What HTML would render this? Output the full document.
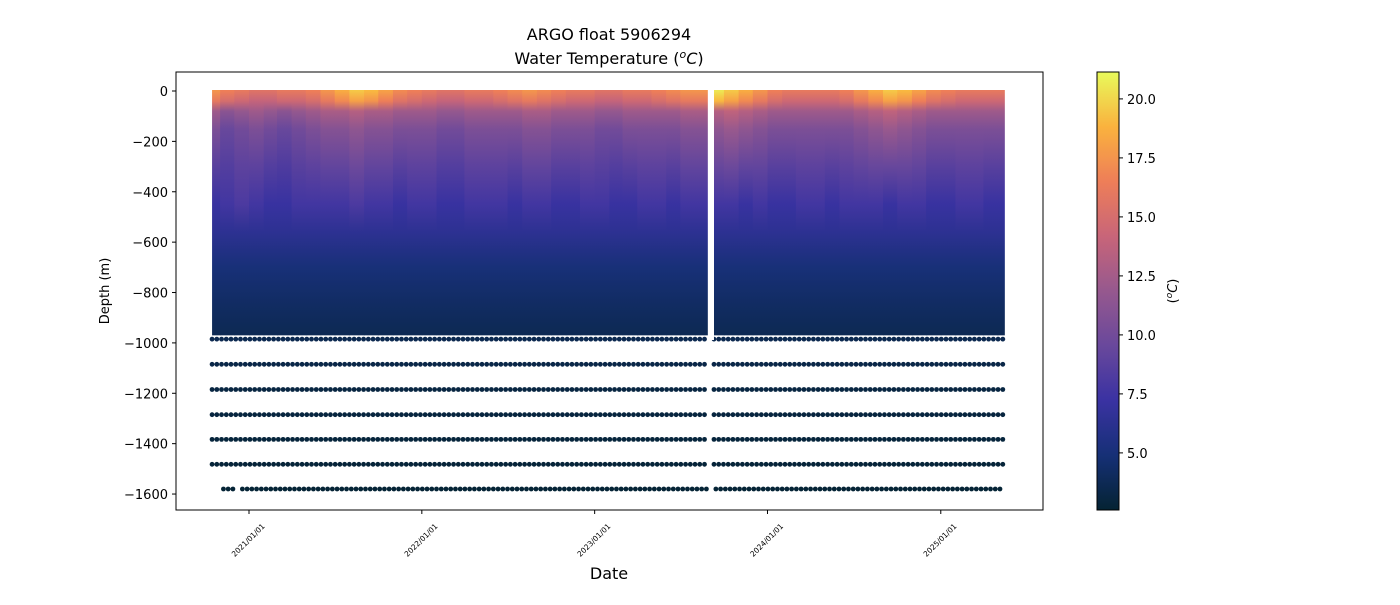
<!DOCTYPE html>
<html><head><meta charset="utf-8"><style>
body{margin:0;background:#fff;font-family:"Liberation Sans","DejaVu Sans",sans-serif}
svg text{font-family:"DejaVu Sans","Liberation Sans",sans-serif;fill:#000}
</style></head><body>
<svg id="chart" width="1400" height="600" viewBox="0 0 1400 600" xmlns="http://www.w3.org/2000/svg">
<defs id="defs"></defs>
<g id="plot"></g>
<rect x="176" y="72" width="867" height="438" fill="none" stroke="#000" stroke-width="1"/>
<g id="axes"></g>
<text x="609" y="40" text-anchor="middle" font-size="16">ARGO float 5906294</text>
<text x="609" y="64" text-anchor="middle" font-size="16">Water Temperature (<tspan font-size="11" dy="-6" font-style="italic">o</tspan><tspan dy="6" font-style="italic">C</tspan>)</text>
<text transform="translate(109,291) rotate(-90)" text-anchor="middle" font-size="13">Depth (m)</text>
<text x="609" y="579" text-anchor="middle" font-size="16">Date</text>
<g id="cbar"></g>
<text transform="translate(1177,291) rotate(-90)" text-anchor="middle" font-size="13">(<tspan font-size="9" dy="-5" font-style="italic">o</tspan><tspan dy="5" font-style="italic">C</tspan>)</text>
</svg>
<script>
const yTicks=[0,-200,-400,-600,-800,-1000,-1200,-1400,-1600];
const xTickLabels=["2021/01/01","2022/01/01","2023/01/01","2024/01/01","2025/01/01"];
const xTickDates=["2021-01-01","2022-01-01","2023-01-01","2024-01-01","2025-01-01"];
const cbTicks=[5,7.5,10,12.5,15,17.5,20];
const monthStarts=["2020-10-15","2020-11-01","2020-12-01","2021-01-01","2021-02-01","2021-03-01","2021-04-01","2021-05-01","2021-06-01","2021-07-01","2021-08-01","2021-09-01","2021-10-01","2021-11-01","2021-12-01","2022-01-01","2022-02-01","2022-03-01","2022-04-01","2022-05-01","2022-06-01","2022-07-01","2022-08-01","2022-09-01","2022-10-01","2022-11-01","2022-12-01","2023-01-01","2023-02-01","2023-03-01","2023-04-01","2023-05-01","2023-06-01","2023-07-01","2023-08-01","2023-09-10","2023-10-01","2023-11-01","2023-12-01","2024-01-01","2024-02-01","2024-03-01","2024-04-01","2024-05-01","2024-06-01","2024-07-01","2024-08-01","2024-09-01","2024-10-01","2024-11-01","2024-12-01","2025-01-01","2025-02-01","2025-03-01","2025-04-01","2025-05-01"];
const surfaceTemp=[17.5,16.5,16,15.5,15.5,16,16,16.5,17.5,18.5,19.5,19,18,17,16.5,16,15.5,15.5,16,16,16.5,17,17.5,17,16.5,16,16,15.5,15.5,16,16,16.5,17,17.5,17.5,20.5,19.5,18.5,17.5,16.5,16,16,16,16,16.5,17.5,18.5,19.5,19,18,17,16.5,16,16,16,16];
const temp100=[11.5,10.5,11,11.5,11,10.5,11,11.5,12,12,12.5,12,12,11.5,11.5,11.5,11,11,11.5,11.5,11.5,11.5,12,12,11.5,11.5,11.5,11,11,11.5,11.5,11.5,11.5,12,12,12.5,13,12.5,12,11.5,11.5,11.5,11.5,11.5,11.5,12,12.5,13,12.5,12,11.5,11.5,11.5,11.5,11.5,11.5];
const temp400=[7.5,8,8.5,8,7.5,7.5,8,8,8,8,8.5,8,8,7.5,8,8,7.5,7.5,8,8,8,7.5,8,8,7.5,7.5,8,8,7.5,7.5,8,8,7.5,8,8,8,8,7.5,8,7.5,7.5,8,8,7.5,8,8,8,7.5,8,8,7.5,7.5,8,8,7.5,7.5];
const gapStart="2023-08-28", gapEnd="2023-09-10", endDate="2025-05-15";
const deepDepths=[-985,-1085,-1185,-1285,-1383,-1482,-1580];
const deepTemps=[3.6,3.3,3.1,3.0,2.9,2.8,2.7];
const firstProfile="2020-10-15", bottomRowStart="2020-11-08", cycleDays=10;

const NS="http://www.w3.org/2000/svg";
const t0=Date.parse("2021-01-01");
const X=d=>249+(Date.parse(d)-t0)/86400000*0.4735;
const Y=v=>91-v*0.2519;
const cmin=2.58,cmax=21.14;
const stops=[[0,[4,35,51]],[0.125,[22,48,118]],[0.25,[58,50,162]],[0.375,[105,72,156]],[0.5,[150,88,142]],[0.625,[200,101,121]],[0.75,[238,126,88]],[0.875,[250,178,62]],[1,[232,250,91]]];
function col(t){let u=Math.max(0,Math.min(1,(t-cmin)/(cmax-cmin)));for(let i=1;i<stops.length;i++){if(u<=stops[i][0]){const a=stops[i-1],b=stops[i],f=(u-a[0])/(b[0]-a[0]);return `rgb(${a[1].map((c,k)=>Math.round(c+(b[1][k]-c)*f)).join(',')})`;}}return "rgb(232,250,91)";}
function el(tag,attrs,parent){const e=document.createElementNS(NS,tag);for(const k in attrs)e.setAttribute(k,attrs[k]);parent.appendChild(e);return e;}
const defs=document.getElementById('defs'),plot=document.getElementById('plot'),axes=document.getElementById('axes');
for(let i=0;i<monthStarts.length;i++){
  const x0=X(monthStarts[i]);let x1=i+1<monthStarts.length?X(monthStarts[i+1]):X(endDate);
  if(monthStarts[i]==="2023-08-01")x1=X(gapStart);
  const g=el('linearGradient',{id:'g'+i,x1:0,y1:Y(0),x2:0,y2:Y(-970),gradientUnits:'userSpaceOnUse'},defs);
  const prof=[[0,surfaceTemp[i]],[-40,surfaceTemp[i]-1.5],[-80,temp100[i]+0.8],[-150,temp100[i]-1],[-300,(temp100[i]+temp400[i])/2-0.8],[-450,temp400[i]-0.4],[-560,6.4],[-700,5.0],[-850,4.2],[-970,3.7]];
  prof.forEach(p=>el('stop',{offset:(-p[0]/970).toFixed(3),'stop-color':col(p[1])},g));
  const r=el('rect',{x:x0,y:Y(0)-1,width:x1-x0+0.6,height:Y(-970)-Y(0)+1,fill:`url(#g${i})`},plot);
  
  
}
const tStart=Date.parse(firstProfile),tEnd=Date.parse(endDate),gs=Date.parse(gapStart),ge=Date.parse(gapEnd);
deepDepths.forEach((d,k)=>{
  const startT=k===deepDepths.length-1?Date.parse(bottomRowStart):tStart;
  for(let t=startT;t<=tEnd;t+=cycleDays*86400000){
    if(t>gs&&t<ge)continue;
    const ds=new Date(t).toISOString().slice(0,10);
    if(k===deepDepths.length-1&&ds>"2020-12-01"&&ds<"2020-12-14")continue;
    const c=el('circle',{cx:X(ds),cy:Y(d),r:2.4,fill:col(deepTemps[k])},plot);
    
    
  }
});
const gr=el('rect',{x:X(gapStart),y:80,width:X(gapEnd)-X(gapStart),height:260,fill:'#fff'},plot);


yTicks.forEach(v=>{const y=Y(v);el('line',{x1:172,x2:176,y1:y,y2:y,stroke:'#000'},axes);
  const t=el('text',{x:168,y:y+5,'text-anchor':'end','font-size':13},axes);t.textContent=v<0?'\u2212'+(-v):String(v);
  
  });
xTickDates.forEach((d,i)=>{const x=X(d);el('line',{x1:x,x2:x,y1:510,y2:514,stroke:'#000'},axes);
  const t=el('text',{transform:`translate(${x+1},${542}) rotate(-45)`,'text-anchor':'middle','font-size':7.5},axes);t.textContent=xTickLabels[i];
  
  });
const cb=document.getElementById('cbar');
const cg=el('linearGradient',{id:'cbg',x1:0,y1:1,x2:0,y2:0},defs);
for(let i=0;i<=40;i++){el('stop',{offset:i/40,'stop-color':col(cmin+(cmax-cmin)*i/40)},cg);}
el('rect',{x:1097,y:72,width:22,height:438,fill:'url(#cbg)',stroke:'#000','stroke-width':1},cb);
const CY=v=>510-(v-cmin)/(cmax-cmin)*438;
cbTicks.forEach(v=>{const y=CY(v);el('line',{x1:1119,x2:1123,y1:y,y2:y,stroke:'#000'},cb);
  const t=el('text',{x:1127,y:y+5,'font-size':13},cb);t.textContent=v.toFixed(1);
  
  });
</script>
</body></html>
